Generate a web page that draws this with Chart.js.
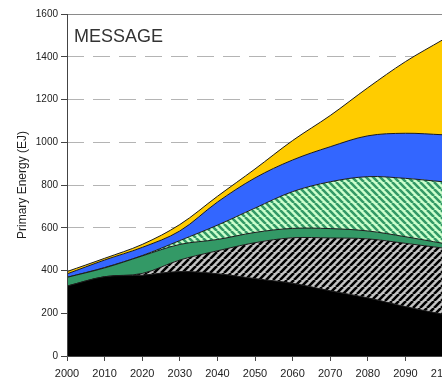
<!DOCTYPE html>
<html>
<head>
<meta charset="utf-8">
<script src="https://cdn.jsdelivr.net/npm/chart.js@4/dist/chart.umd.min.js"></script>
<style>
  html, body { margin: 0; padding: 0; background: #fff; overflow: hidden; }
  #wrap { width: 462px; height: 379px; }
</style>
</head>
<body>
<div id="wrap"><canvas id="energyChart"></canvas></div>
<script>
// Years on the x axis
const years = [2000, 2010, 2020, 2030, 2040, 2050, 2060, 2070, 2080, 2090, 2100];

// Layer values (EJ), bottom to top
const coal       = [327, 371, 378, 395, 385, 362, 340, 305, 272, 231, 195];
const oil        = [0, 0, 8, 54, 107, 168, 213, 247, 276, 296, 310];
const gas        = [41, 41, 82, 73, 53, 48, 44, 44, 37, 31, 22];
const nuclear    = [0, 2, 2, 18, 67, 114, 172, 219, 254, 273, 288];
const biomass    = [16, 35, 38, 45, 108, 141, 148, 164, 191, 211, 220];
const renewables = [11, 8, 14, 30, 27, 42, 91, 146, 225, 335, 445];

// y axis ticks
const yTicks = [0, 200, 400, 600, 800, 1000, 1200, 1400, 1600];

function hatch(bg, fg, dir) {
    const s = 7;
    const c = document.createElement('canvas');
    c.width = s; c.height = s;
    const g = c.getContext('2d');
    g.fillStyle = bg;
    g.fillRect(0, 0, s, s);
    g.strokeStyle = fg;
    g.lineWidth = 2.6;
    g.beginPath();
    for (let k = -1; k <= 1; k++) {
        if (dir === '/') {
            g.moveTo(k * s, s); g.lineTo(k * s + s, 0);
        } else {
            g.moveTo(k * s, 0); g.lineTo(k * s + s, s);
        }
    }
    g.stroke();
    return g.createPattern(c, 'repeat');
}

const pts = arr => arr.map((v, i) => ({ x: years[i], y: v }));

function layer(label, values, fill, first) {
    return {
        label: label,
        data: pts(values),
        backgroundColor: fill,
        borderColor: '#1a1a1a',
        borderWidth: 1,
        pointRadius: 0,
        tension: 0.35,
        fill: first ? 'origin' : '-1'
    };
}

// frame round the plot and the MESSAGE label
const framePlugin = {
    id: 'frame',
    afterDatasetsDraw(chart) {
        const { ctx, chartArea: a } = chart;
        ctx.save();
        ctx.strokeStyle = '#8a8a8a';
        ctx.lineWidth = 1;
        ctx.beginPath();
        ctx.moveTo(a.left, a.top + 0.5);
        ctx.lineTo(a.right, a.top + 0.5);
        ctx.lineTo(a.right - 0.5, a.bottom);
        ctx.stroke();
        ctx.strokeStyle = '#444';
        ctx.beginPath();
        ctx.moveTo(a.left + 0.5, a.top);
        ctx.lineTo(a.left + 0.5, a.bottom + 0.5);
        ctx.lineTo(a.right, a.bottom + 0.5);
        ctx.stroke();
        ctx.fillStyle = '#333';
        ctx.font = '18px "Liberation Sans", Arial, sans-serif';
        ctx.textBaseline = 'alphabetic';
        ctx.fillText('MESSAGE', a.left + 7, a.top + 28);
        ctx.restore();
    }
};

document.addEventListener('DOMContentLoaded', function() {
    const ctx = document.getElementById('energyChart').getContext('2d');
    new Chart(ctx, {
        type: 'line',
        data: {
            datasets: [
                layer('Coal', coal, '#000000', true),
                layer('Oil', oil, hatch('#c4c4c4', '#000000', '/')),
                layer('Gas', gas, '#339966'),
                layer('Nuclear', nuclear, hatch('#ccffcc', '#339966', '\\')),
                layer('Biomass', biomass, '#3366ff'),
                layer('Other renewables', renewables, '#ffcc00')
            ]
        },
        options: {
            responsive: true,
            maintainAspectRatio: false,
            animation: false,
            layout: { padding: { top: 14, right: 19, left: 0, bottom: 0 } },
            scales: {
                x: {
                    type: 'linear',
                    min: years[0],
                    max: years[years.length - 1],
                    afterFit: s => { s.height = 23; },
                    afterBuildTicks: s => { s.ticks = years.map(v => ({ value: v })); },
                    border: { display: false },
                    grid: { drawOnChartArea: false, tickLength: 5, tickColor: '#444' },
                    ticks: {
                        color: '#222',
                        padding: 6,
                        maxRotation: 0,
                        font: { family: '"Liberation Sans", Arial', size: 11 },
                        callback: v => String(v)
                    }
                },
                y: {
                    stacked: true,
                    min: 0,
                    max: 1600,
                    afterFit: s => { s.width = 67; },
                    afterBuildTicks: s => { s.ticks = yTicks.map(v => ({ value: v })); },
                    border: { display: false, dash: [17, 9] },
                    grid: {
                        color: '#b4b4b4',
                        tickColor: '#444',
                        tickLength: 6,
                        tickBorderDash: []
                    },
                    ticks: {
                        color: '#222',
                        padding: 3,
                        font: { family: '"Liberation Sans", Arial', size: 10 },
                        callback: v => String(v)
                    },
                    title: {
                        display: true,
                        text: 'Primary Energy (EJ)',
                        color: '#222',
                        padding: { top: 15, bottom: 0 },
                        font: { family: '"Liberation Sans", Arial', size: 12 }
                    }
                }
            },
            plugins: {
                legend: { display: false },
                tooltip: { enabled: false }
            }
        },
        plugins: [framePlugin]
    });
});
</script>
</body>
</html>
